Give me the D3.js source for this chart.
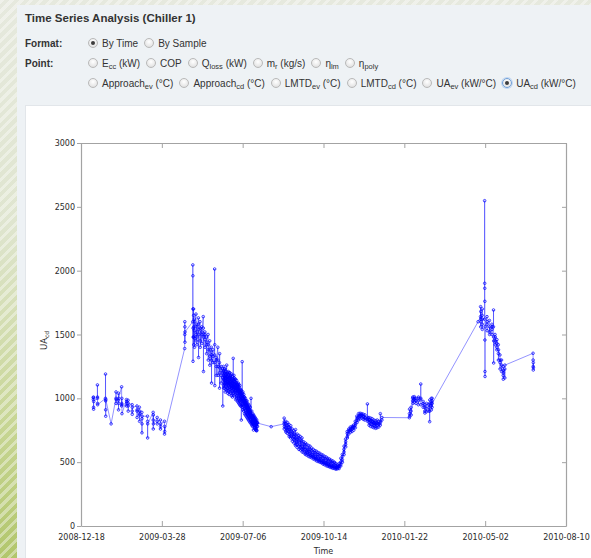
<!DOCTYPE html>
<html>
<head>
<meta charset="utf-8">
<script src="https://cdn.jsdelivr.net/npm/d3@7"></script>
<style>
  html, body { margin: 0; padding: 0; width: 591px; height: 558px; overflow: hidden; }
  body {
    position: relative;
    font-family: "Liberation Sans", Arial, sans-serif;
    color: #333;
    background:
      repeating-linear-gradient(135deg, rgba(255,255,255,0.38) 0 3px, rgba(255,255,255,0) 3px 7px),
      linear-gradient(#e6e9de 0%, #dfe5cf 40%, #c8d696 75%, #b2c66c 100%);
  }
  #panel { position: absolute; left: 17px; top: 5px; right: 0; bottom: 0; background: #eef2f5; }
  #chartBox { position: absolute; left: 25px; top: 105px; right: -2px; bottom: -2px; background: #fff; border: 1px solid #e2e6ea; }
  #title { position: absolute; left: 25px; top: 12px; font-weight: bold; font-size: 11.5px; color: #333; }
  .lbl { position: absolute; left: 25px; font-weight: bold; font-size: 10px; color: #333; }
  .row { position: absolute; left: 88px; font-size: 10px; white-space: nowrap; color: #333; line-height: 12px; }
  .opt { display: inline-block; margin-right: 6px; }
  .opt sub { font-size: 7.5px; vertical-align: -2px; line-height: 0; }
  .rb {
    display: inline-block; box-sizing: border-box; width: 10px; height: 10px; border-radius: 50%;
    border: 1px solid #b9b9b9; background: radial-gradient(circle at 50% 35%, #ffffff 0%, #e9e9e9 60%, #d6d6d6 100%);
    vertical-align: -1px; margin-right: 4px; position: relative;
  }
  .rb.on::after {
    content: ""; position: absolute; left: 2px; top: 2px; width: 4px; height: 4px; border-radius: 50%; background: #3c3c3c;
  }
  .rb.focus { border-color: #6f9fd8; box-shadow: 0 0 0 1px #c3d8f2; }
  svg { position: absolute; left: 0; top: 0; }
</style>
</head>
<body>
<div id="panel"></div>
<div id="chartBox"></div>
<div id="title">Time Series Analysis (Chiller 1)</div>
<div class="lbl" style="top:38px">Format:</div>
<div class="lbl" style="top:58px">Point:</div>
<div id="controls"></div>
<svg id="chart" width="591" height="558"></svg>
<script>
// ---- option labels ----
const formatOptions = ["By Time", "By Sample"];
const pointOptionsRow1 = ["E<sub>cc</sub> (kW)", "COP", "Q<sub>loss</sub> (kW)", "m<sub>r</sub> (kg/s)", "η<sub>lm</sub>", "η<sub>poly</sub>"];
const pointOptionsRow2 = ["Approach<sub>ev</sub> (°C)", "Approach<sub>cd</sub> (°C)", "LMTD<sub>ev</sub> (°C)", "LMTD<sub>cd</sub> (°C)", "UA<sub>ev</sub> (kW/°C)", "UA<sub>cd</sub> (kW/°C)"];

// ---- axis ticks ----
const xTickLabels = ["2008-12-18", "2009-03-28", "2009-07-06", "2009-10-14", "2010-01-22", "2010-05-02", "2010-08-10"];
const yTickValues = [0, 500, 1000, 1500, 2000, 2500, 3000];

// ---- UA_cd readings (kW/°C), grouped by day; each day's readings in logging order ----
const winter2009 = [
  ["2009-01-02", [1005, 990, 1010, 930, 915, 975]],
  ["2009-01-07", [1000, 1105, 1010, 960, 950]],
  ["2009-01-17", [1000, 1190, 980, 910, 860, 990]],
  ["2009-01-24", [800]],
  ["2009-01-30", [1000, 1050, 960, 990]],
  ["2009-02-02", [985, 1040, 910, 960, 1000]],
  ["2009-02-06", [1090, 940, 960, 1000, 950, 880]],
  ["2009-02-12", [990, 960, 940, 975]],
  ["2009-02-14", [985, 940, 900, 960]],
  ["2009-02-19", [950, 900, 875, 930]],
  ["2009-02-25", [940, 900, 850, 910]],
  ["2009-02-28", [930, 870, 820, 880, 900]],
  ["2009-03-03", [890, 840, 730, 800, 860]],
  ["2009-03-10", [860, 820, 690, 800]],
  ["2009-03-17", [890, 830, 760, 870, 800]],
  ["2009-03-22", [850, 800, 820]],
  ["2009-03-26", [830, 760, 780, 800]],
  ["2009-03-31", [820, 720, 780, 740]]
];

const spring2009 = [
  ["2009-04-25", [1390, 1500, 1600, 1560, 1440, 1520]],
  ["2009-05-05", [1600, 2045, 1960, 1700, 1290, 1550, 1480]],
  ["2009-05-06", [1700, 1650, 1480, 1420, 1560]],
  ["2009-05-07", [1620, 1530, 1400, 1470, 1600]],
  ["2009-05-09", [1660, 1560, 1450, 1500]],
  ["2009-05-10", [1580, 1480, 1420, 1520]],
  ["2009-05-12", [1630, 1580, 1320, 1500, 1540]],
  ["2009-05-14", [1600, 1450, 1550, 1400]],
  ["2009-05-16", [1560, 1500, 1430, 1520]],
  ["2009-05-18", [1640, 1550, 1480, 1210, 1500]],
  ["2009-05-20", [1520, 1460, 1400, 1500]],
  ["2009-05-22", [1480, 1420, 1350, 1440]],
  ["2009-05-24", [1500, 1380, 1300, 1420]],
  ["2009-05-26", [1450, 1330, 1260, 1380]],
  ["2009-05-28", [1400, 1300, 1340, 1120, 1360]],
  ["2009-05-30", [1380, 1280, 1330]],
  ["2009-06-01", [1340, 2013, 1420, 1100, 1280]],
  ["2009-06-03", [1320, 1250, 1180, 1300]],
  ["2009-06-05", [1400, 1300, 1180, 1250]],
  ["2009-06-07", [1280, 1200, 1080, 1350, 1240]],
  ["2009-06-09", [1250, 1180, 1120, 1220]],
  ["2009-06-11", [1230, 1160, 940, 1200]]
];

const summer2009 = [
  ["2009-06-12", [1250, 1180, 1100, 1210, 1150, 1080]],
  ["2009-06-13", [1140, 1230, 1200, 1080, 1170, 1110]],
  ["2009-06-14", [1230, 1050, 1160, 1180, 1120, 1140]],
  ["2009-06-15", [1100, 1190, 1210, 1070, 1140, 1160]],
  ["2009-06-16", [1260, 1110, 1170, 1060, 1190, 1130]],
  ["2009-06-17", [1080, 1150, 1200, 1040, 1120, 1170]],
  ["2009-06-18", [1210, 1060, 1180, 1120, 1100, 1150]],
  ["2009-06-19", [1030, 1140, 1200, 1160, 1090, 1120]],
  ["2009-06-20", [1200, 1130, 1050, 1170, 1070, 1110]],
  ["2009-06-21", [1040, 1160, 1100, 1180, 1130, 1080]],
  ["2009-06-22", [1190, 1020, 1120, 1140, 1080, 1100]],
  ["2009-06-23", [1090, 1170, 1010, 1150, 1120, 1060]],
  ["2009-06-24", [1140, 1313, 1040, 1100, 1130, 1070]],
  ["2009-06-25", [1180, 1020, 1110, 1160, 1050, 1090]],
  ["2009-06-26", [1030, 1130, 1150, 1080, 1100, 1060]],
  ["2009-06-27", [1150, 990, 1100, 1060, 1120, 1090]],
  ["2009-06-28", [1000, 1120, 1080, 1140, 1020, 1070]],
  ["2009-06-29", [1110, 980, 1040, 1090, 1060, 1080]],
  ["2009-06-30", [970, 1070, 1120, 1010, 1100, 1050]],
  ["2009-07-01", [1110, 960, 1060, 1000, 1090, 1040]],
  ["2009-07-02", [950, 1050, 1100, 980, 1070, 1030]],
  ["2009-07-03", [1060, 940, 1040, 990, 1070, 1010]],
  ["2009-07-04", [1030, 830, 1060, 980, 940, 1000]],
  ["2009-07-05", [930, 1020, 1287, 1000, 960, 1040]],
  ["2009-07-06", [1050, 910, 1000, 950, 1020, 980]],
  ["2009-07-07", [900, 990, 1030, 940, 1010, 970]],
  ["2009-07-08", [1010, 880, 980, 920, 990, 960]],
  ["2009-07-09", [870, 960, 1000, 910, 980, 950]],
  ["2009-07-10", [980, 860, 950, 890, 960, 930]],
  ["2009-07-11", [850, 940, 980, 880, 950, 920]],
  ["2009-07-12", [960, 840, 920, 870, 930, 900]],
  ["2009-07-13", [830, 910, 950, 860, 920, 890]],
  ["2009-07-14", [940, 820, 900, 850, 910, 880]],
  ["2009-07-15", [810, 890, 930, 840, 900, 870]],
  ["2009-07-16", [870, 1000, 820, 860, 800, 850]],
  ["2009-07-17", [900, 790, 860, 810, 870, 840]],
  ["2009-07-18", [780, 850, 880, 800, 860, 830]],
  ["2009-07-19", [840, 752, 870, 790, 850, 820]],
  ["2009-07-20", [860, 770, 830, 790, 840, 810]],
  ["2009-07-21", [760, 820, 850, 770, 830, 800]],
  ["2009-07-22", [840, 750, 810, 760, 820, 790]],
  ["2009-07-23", [745, 800, 830, 750, 810, 780]],
  ["2009-07-24", [810, 780, 806]],
  ["2009-08-10", [778]]
];

const autumn2009 = [
  ["2009-08-26", [800, 845, 760, 815, 780]],
  ["2009-08-28", [770, 820, 745, 800, 735]],
  ["2009-08-30", [790, 725, 810, 750, 770]],
  ["2009-09-01", [740, 795, 715, 770, 700]],
  ["2009-09-03", [765, 690, 740, 785, 705]],
  ["2009-09-05", [720, 760, 665, 735, 690]],
  ["2009-09-07", [700, 745, 650, 720, 675]],
  ["2009-09-09", [715, 630, 755, 670, 690, 640]],
  ["2009-09-11", [660, 720, 615, 690, 640]],
  ["2009-09-13", [690, 625, 665, 710, 600]],
  ["2009-09-15", [640, 700, 595, 670, 620]],
  ["2009-09-17", [665, 600, 690, 620, 580]],
  ["2009-09-19", [610, 660, 575, 640, 600]],
  ["2009-09-21", [635, 570, 650, 600, 560]],
  ["2009-09-23", [585, 640, 555, 610, 575]],
  ["2009-09-25", [600, 560, 630, 545, 585]],
  ["2009-09-27", [570, 625, 540, 600, 555]],
  ["2009-09-29", [590, 535, 610, 560, 545]],
  ["2009-10-01", [550, 600, 525, 575, 540]],
  ["2009-10-03", [575, 520, 590, 545, 530]],
  ["2009-10-05", [535, 585, 510, 560, 525]],
  ["2009-10-07", [560, 505, 575, 530, 515]],
  ["2009-10-09", [520, 570, 500, 545, 510]],
  ["2009-10-11", [545, 495, 560, 515, 500]],
  ["2009-10-13", [505, 555, 485, 530, 495]],
  ["2009-10-15", [530, 480, 545, 500, 490]],
  ["2009-10-17", [495, 540, 472, 515, 485]],
  ["2009-10-19", [520, 468, 530, 490, 478]],
  ["2009-10-21", [480, 525, 462, 500, 470]],
  ["2009-10-23", [505, 458, 515, 475, 465]],
  ["2009-10-25", [470, 510, 452, 490, 462]],
  ["2009-10-27", [495, 450, 500, 465, 458]],
  ["2009-10-29", [460, 490, 445, 475, 452]],
  ["2009-10-31", [480, 448, 470, 455, 462]],
  ["2009-11-02", [470, 450, 490, 465]]
];

const lateAutumn2009 = [
  ["2009-11-04", [500, 470, 530, 485]],
  ["2009-11-06", [560, 520, 500, 545]],
  ["2009-11-08", [600, 580, 625, 560]],
  ["2009-11-10", [680, 640, 660, 620]],
  ["2009-11-12", [740, 700, 725, 690]],
  ["2009-11-14", [720, 760, 740, 750]],
  ["2009-11-16", [775, 735, 760, 750]],
  ["2009-11-18", [740, 780, 760, 770]],
  ["2009-11-20", [790, 750, 780, 770]],
  ["2009-11-22", [820, 790, 770, 805]],
  ["2009-11-24", [860, 830, 845, 810]],
  ["2009-11-26", [830, 880, 850, 860]],
  ["2009-11-28", [883, 860, 840, 870]],
  ["2009-11-30", [845, 880, 865, 870]],
  ["2009-12-02", [875, 855, 835, 860]],
  ["2009-12-04", [830, 870, 850, 845]],
  ["2009-12-07", [840, 956, 830, 820, 850]],
  ["2009-12-09", [850, 790, 830, 810, 835]],
  ["2009-12-11", [780, 820, 845, 800, 825]],
  ["2009-12-13", [840, 795, 815, 775, 820]],
  ["2009-12-15", [770, 810, 830, 790, 805]],
  ["2009-12-17", [825, 780, 800, 765, 810]],
  ["2009-12-19", [770, 805, 830, 800]],
  ["2009-12-21", [820, 775, 800, 795]],
  ["2009-12-23", [790, 880, 810, 820]],
  ["2009-12-25", [830, 850]]
];

const early2010 = [
  ["2010-01-28", [848, 880, 915, 860]],
  ["2010-01-30", [900, 930, 870]],
  ["2010-02-01", [980, 1000, 960, 1010]],
  ["2010-02-03", [990, 1013, 970, 1000]],
  ["2010-02-05", [1000, 960, 985]],
  ["2010-02-08", [980, 950, 1000, 1010]],
  ["2010-02-11", [990, 1112, 1000, 950]],
  ["2010-02-14", [960, 930, 975]],
  ["2010-02-16", [930, 900, 885, 950]],
  ["2010-02-18", [920, 895, 960]],
  ["2010-02-21", [950, 900, 930]],
  ["2010-02-22", [960, 817, 900, 987]],
  ["2010-02-24", [940, 1000, 910, 960]],
  ["2010-02-25", [980, 930, 1000, 960]]
];

const spring2010 = [
  ["2010-04-23", [1600]],
  ["2010-04-26", [1640, 1718, 1600, 1560, 1680, 1620]],
  ["2010-04-28", [1650, 1700, 1580, 1540, 1620]],
  ["2010-05-01", [1620, 2548, 1901, 1862, 1760, 1457, 1210, 1171, 1560]],
  ["2010-05-04", [1640, 1600, 1530, 1580]],
  ["2010-05-07", [1610, 1520, 1560, 1500]],
  ["2010-05-10", [1580, 1540, 1500, 1560]],
  ["2010-05-12", [1560, 1692, 1480, 1277, 1450]],
  ["2010-05-14", [1500, 1450, 1420, 1480]],
  ["2010-05-16", [1430, 1400, 1380, 1460]],
  ["2010-05-18", [1420, 1350, 1300, 1380]],
  ["2010-05-20", [1340, 1280, 1230, 1300]],
  ["2010-05-22", [1300, 1210, 1260]],
  ["2010-05-24", [1250, 1180, 1150, 1220, 1200]],
  ["2010-05-26", [1230, 1160, 1260]],
  ["2010-06-30", [1353, 1300, 1250, 1222, 1280, 1240]]
];

// readings within a day are logged every two hours from 06:00
const FIRST_SAMPLE_HOUR = 6;
const SAMPLE_STEP_HOURS = 2;

// ---- controls ----
const controls = d3.select("#controls");
function addRow(labels, top, selectedIndex, focusIndex) {
  const row = controls.append("div").attr("class", "row").style("top", top + "px");
  labels.forEach((html, i) => {
    const opt = row.append("span").attr("class", "opt");
    opt.append("span").attr("class", "rb" + (i === selectedIndex ? " on" : "") + (i === focusIndex ? " focus" : ""));
    opt.append("span").html(html);
  });
}
addRow(formatOptions, 38, 0, -1);
addRow(pointOptionsRow1, 58, -1, -1);
addRow(pointOptionsRow2, 78, 5, 5);

// ---- chart ----
const parseDay = d3.timeParse("%Y-%m-%d");
const samples = [];
[winter2009, spring2009, summer2009, autumn2009, lateAutumn2009, early2010, spring2010].forEach(segment => {
  segment.forEach(([day, readings]) => {
    const d0 = parseDay(day);
    readings.forEach((v, i) => {
      samples.push({ t: d3.timeHour.offset(d0, FIRST_SAMPLE_HOUR + i * SAMPLE_STEP_HOURS), v });
    });
  });
});

const plot = { left: 81, right: 566, top: 143, bottom: 526 };
const xTicks = xTickLabels.map(parseDay);
const x = d3.scaleTime().domain([xTicks[0], xTicks[xTicks.length - 1]]).range([plot.left, plot.right]);
const y = d3.scaleLinear().domain([0, 3000]).range([plot.bottom, plot.top]);

const svg = d3.select("#chart");
const axisColor = "#a3a3a3";
const fmt = d3.timeFormat("%Y-%m-%d");

function styleAxis(g, showText) {
  g.selectAll("path.domain").attr("stroke", axisColor).attr("stroke-width", 1.2);
  g.selectAll(".tick line").attr("stroke", axisColor).attr("stroke-width", 1);
  g.selectAll(".tick text")
    .attr("fill", "#2b2b2b")
    .style("font-family", "'DejaVu Sans', sans-serif")
    .style("font-size", "8px")
    .style("display", showText ? null : "none");
}

svg.append("g").attr("transform", `translate(0,${plot.bottom})`)
  .call(d3.axisBottom(x).tickValues(xTicks).tickFormat(fmt).tickSizeInner(-5).tickSizeOuter(0).tickPadding(8))
  .call(g => styleAxis(g, true));
svg.append("g").attr("transform", `translate(0,${plot.top})`)
  .call(d3.axisTop(x).tickValues(xTicks).tickSizeInner(-5).tickSizeOuter(0))
  .call(g => styleAxis(g, false));
svg.append("g").attr("transform", `translate(${plot.left},0)`)
  .call(d3.axisLeft(y).tickValues(yTickValues).tickFormat(d3.format("d")).tickSizeInner(4).tickSizeOuter(0).tickPadding(2))
  .call(g => styleAxis(g, true));
svg.append("g").attr("transform", `translate(${plot.right},0)`)
  .call(d3.axisRight(y).tickValues(yTickValues).tickSizeInner(-4).tickSizeOuter(0))
  .call(g => styleAxis(g, false));

// axis titles
svg.append("text")
  .attr("x", (plot.left + plot.right) / 2).attr("y", 554)
  .attr("text-anchor", "middle")
  .style("font-family", "'DejaVu Sans', sans-serif").style("font-size", "8px").attr("fill", "#2b2b2b")
  .text("Time");
const yTitle = svg.append("text")
  .attr("transform", `translate(47,${(plot.top + plot.bottom) / 2 + 6}) rotate(-90)`)
  .attr("text-anchor", "middle")
  .style("font-family", "'DejaVu Sans', sans-serif").style("font-size", "8.5px").attr("fill", "#2b2b2b");
yTitle.append("tspan").text("UA");
yTitle.append("tspan").attr("dy", 2).style("font-size", "6px").text("cd");

// connecting line
const line = d3.line().x(d => x(d.t)).y(d => y(d.v));
svg.append("path").datum(samples)
  .attr("d", line)
  .attr("fill", "none")
  .attr("stroke", "#1010ff")
  .attr("stroke-opacity", 0.45)
  .attr("stroke-width", 1);

// sample markers
svg.append("g").selectAll("circle").data(samples).join("circle")
  .attr("cx", d => x(d.t)).attr("cy", d => y(d.v)).attr("r", 1.3)
  .attr("fill", "none")
  .attr("stroke", "#0000ff").attr("stroke-opacity", 0.8).attr("stroke-width", 0.9);
</script>
</body>
</html>
